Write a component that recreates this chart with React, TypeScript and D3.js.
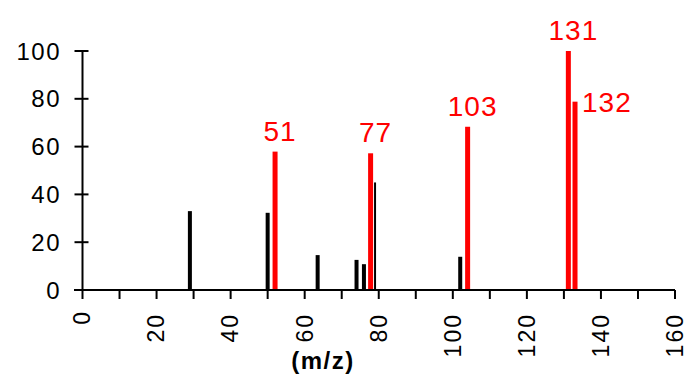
import React from "react";
import * as d3 from "d3";

const blackMz = [29, 50, 63.5, 74, 76, 79, 102];
const blackIntensity = [33, 32.3, 14.6, 12.6, 10.8, 45, 13.9];
const redMz = [52, 77.8, 104, 131.2, 133];
const redIntensity = [57.9, 57.2, 68.3, 100, 78.8];
const redLabels = ["51", "77", "103", "131", "132"];
const xTicks = [0, 10, 20, 30, 40, 50, 60, 70, 80, 90, 100, 110, 120, 130, 140, 150, 160];
const xTickLabels = ["0", "20", "40", "60", "80", "100", "120", "140", "160"];
const yTicks = [0, 20, 40, 60, 80, 100];
const xTitle = "(m/z)";

const W = 685;
const H = 379;
const FONT = "'Liberation Sans', Arial, Helvetica, sans-serif";

export default function App() {
  const x = d3.scaleLinear().domain([0, 160]).range([82.5, 675]);
  const y = d3.scaleLinear().domain([0, 100]).range([290, 51]);
  const y0 = y(0);

  const black = blackMz.map((m, i) => ({ m, v: blackIntensity[i] }));
  const red = redMz.map((m, i) => ({ m, v: redIntensity[i], label: redLabels[i] }));

  return (
    <svg
      width={W}
      height={H}
      style={{ position: "absolute", left: 0, top: 0, background: "#fff" }}
      fontFamily={FONT}
    >
      <rect x={0} y={0} width={W} height={H} fill="#fff" />
      {/* bars */}
      {black.map((d, i) => {
        const w = d.m === 79 ? 2 : 4;
        return (
          <rect
            key={"b" + i}
            x={x(d.m) - w / 2}
            y={y(d.v)}
            width={w}
            height={y0 - y(d.v)}
            fill="#000"
          />
        );
      })}
      {red.map((d, i) => (
        <rect
          key={"r" + i}
          x={x(d.m) - 2.5}
          y={y(d.v)}
          width={5}
          height={y0 - y(d.v)}
          fill="#ff0000"
        />
      ))}
      {/* red labels */}
      {red.map((d, i) =>
        i === red.length - 1 ? (
          <text
            key={"rl" + i}
            x={x(d.m) + 7}
            y={y(d.v)}
            dy="0.36em"
            fontSize={28}
            fill="#ff0000"
            letterSpacing={1}
          >
            {d.label}
          </text>
        ) : (
          <text
            key={"rl" + i}
            x={x(d.m) + 5}
            y={y(d.v) - 11}
            textAnchor="middle"
            fontSize={28}
            fill="#ff0000"
            letterSpacing={1}
          >
            {d.label}
          </text>
        )
      )}
      {/* axes */}
      <line x1={74} x2={x(160)} y1={y0} y2={y0} stroke="#000" strokeWidth={2} />
      <line x1={x(0)} x2={x(0)} y1={y0 + 1} y2={y(100)} stroke="#000" strokeWidth={2} />
      {xTicks.map((t) => (
        <line key={"xt" + t} x1={x(t)} x2={x(t)} y1={y0} y2={y0 + 9} stroke="#000" strokeWidth={2} />
      ))}
      {yTicks.map((t) => (
        <line key={"yt" + t} x1={x(0) - 8} x2={x(0) + 6} y1={y(t)} y2={y(t)} stroke="#000" strokeWidth={2} />
      ))}
      {yTicks.map((t) => (
        <text
          key={"yl" + t}
          x={61}
          y={y(t)}
          dy="0.36em"
          textAnchor="end"
          fontSize={24}
          letterSpacing={1.5}
          fill="#000"
        >
          {String(t)}
        </text>
      ))}
      {xTickLabels.map((s) => {
        const v = +s;
        return (
          <text
            key={"xl" + s}
            transform={`translate(${x(v)},${v === 0 ? 310 : 313}) rotate(-90)`}
            dy="0.34em"
            textAnchor="end"
            fontSize={23}
            letterSpacing={2}
            fill="#000"
          >
            {s}
          </text>
        );
      })}
      <text
        x={323}
        y={369}
        textAnchor="middle"
        fontSize={24}
        fontWeight="bold"
        letterSpacing={1.5}
        fill="#000"
      >
        {xTitle}
      </text>
    </svg>
  );
}
